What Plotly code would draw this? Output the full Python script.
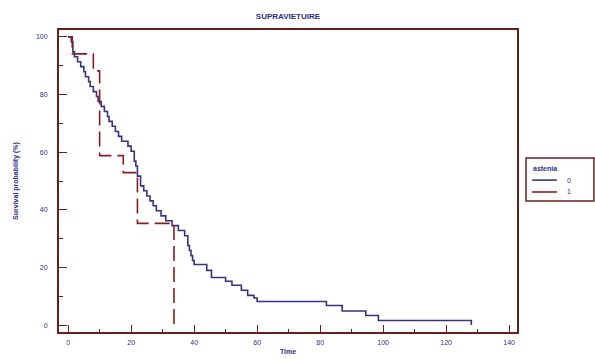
import plotly.graph_objects as go

# Kaplan-Meier step data per astenia group (time, survival %)
time_0 = [0, 1, 1.5, 2, 3, 4, 5, 5.5, 6.5, 7, 8, 9, 9.5, 10.5, 11.5, 12.5, 13, 14,
          15, 16, 17, 19, 20, 21, 21.5, 22, 23, 24, 25, 26, 27, 28, 29.5, 31, 33,
          35, 37, 38, 38.5, 39, 39.5, 40, 44, 45.5, 50, 52, 55, 57, 59, 60, 82,
          87, 94.5, 98.5, 128]
surv_0 = [100, 98.3, 94.8, 93.1, 91.4, 89.7, 87.9, 86.2, 84.5, 82.8, 81.0, 79.3,
          77.6, 75.9, 74.1, 72.4, 70.7, 69.0, 67.2, 65.5, 63.8, 62.1, 60.3, 56.9,
          55.2, 51.7, 48.3, 46.6, 44.8, 43.1, 41.4, 39.7, 37.9, 36.2, 34.5, 32.8,
          31.0, 27.6, 25.9, 24.1, 22.4, 21.0, 19.0, 16.5, 15.2, 13.8, 12.1, 10.3,
          9.4, 8.2, 6.8, 4.9, 3.3, 1.6, 0]

time_1 = [0, 1.3, 8, 10, 17.5, 22, 33.6]
surv_1 = [100, 94.1, 88.2, 58.8, 52.9, 35.3, 0]

group_labels = ["0", "1"]
legend_title = "astenia"

x_ticks = [0, 20, 40, 60, 80, 100, 120, 140]
y_ticks = [0, 20, 40, 60, 80, 100]

TEXT = "#2e2e86"
FRAME = "#6a1f1f"
BLUE = "#35357f"
RED = "#8a1c1c"
FONT = "Liberation Sans, Arial, sans-serif"

fig = go.Figure()
fig.add_trace(go.Scatter(x=time_0, y=surv_0, mode="lines", name=group_labels[0],
                         line=dict(color=BLUE, width=1.6, shape="hv")))
fig.add_trace(go.Scatter(x=time_1, y=surv_1, mode="lines", name=group_labels[1],
                         line=dict(color=RED, width=1.6, shape="hv", dash="15px,6px")))

axis_common = dict(
    showline=True, linecolor=FRAME, linewidth=2, mirror=True,
    ticks="inside", tickcolor=FRAME, tickwidth=1.2,
    showgrid=False, zeroline=False,
    tickfont=dict(family=FONT, size=7, color=TEXT),
)

# Compact legend box to the right of the plot (paper coordinates)
lg_x0, lg_x1, lg_y0, lg_y1 = 1.0197, 1.168, 0.434, 0.576
sample_x0, sample_x1, label_x = 1.033, 1.087, 1.105
row_y = [0.503, 0.4636]
shapes = [dict(type="rect", xref="paper", yref="paper", x0=lg_x0, x1=lg_x1,
               y0=lg_y0, y1=lg_y1, line=dict(color=FRAME, width=1.5),
               fillcolor="white", layer="above")]
annotations = [dict(text="<b>" + legend_title + "</b>", xref="paper", yref="paper",
                    x=1.030, y=0.540, xanchor="left", yanchor="middle",
                    showarrow=False, font=dict(family=FONT, size=7, color=TEXT))]
for lbl, col, yy in zip(group_labels, [BLUE, RED], row_y):
    shapes.append(dict(type="line", xref="paper", yref="paper", x0=sample_x0,
                       x1=sample_x1, y0=yy, y1=yy, line=dict(color=col, width=1.6)))
    annotations.append(dict(text=lbl, xref="paper", yref="paper", x=label_x, y=yy,
                            xanchor="left", yanchor="middle", showarrow=False,
                            font=dict(family=FONT, size=7, color=TEXT)))

fig.update_layout(
    width=595, height=359,
    margin=dict(l=59, r=78, t=30, b=27, autoexpand=False),
    paper_bgcolor="white", plot_bgcolor="white",
    title=dict(text="<b>SUPRAVIETUIRE</b>", x=0.484, xanchor="center", y=0.955,
               yanchor="middle", font=dict(family=FONT, size=8, color=TEXT)),
    xaxis=dict(range=[-2.9, 142.5], tickvals=x_ticks, ticklen=7,
               minor=dict(ticks="inside", dtick=10, tick0=0, ticklen=3,
                          tickcolor=FRAME),
               ticklabelstandoff=3,
               title=dict(text="<b>Time</b>", standoff=4,
                          font=dict(family=FONT, size=7, color=TEXT)),
               **axis_common),
    yaxis=dict(range=[-2.4, 102.4], tickvals=y_ticks, ticklen=8,
               minor=dict(ticks="inside", dtick=10, tick0=0, ticklen=4,
                          tickcolor=FRAME),
               ticklabelstandoff=8,
               title=dict(text="<b>Survival probability (%)</b>", standoff=16,
                          font=dict(family=FONT, size=7, color=TEXT)),
               **axis_common),
    shapes=shapes,
    annotations=annotations,
    showlegend=False,
)

fig.write_html("out.html")
